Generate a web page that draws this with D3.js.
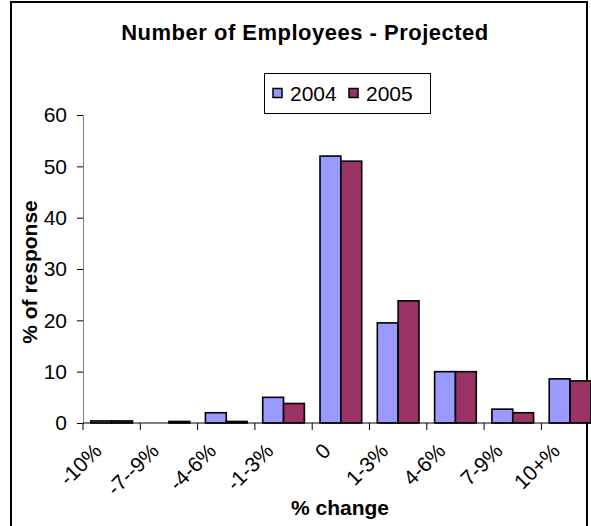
<!DOCTYPE html>
<html><head><meta charset="utf-8">
<script src="https://cdn.jsdelivr.net/npm/d3@7"></script>
<style>body{margin:0;background:#fff}svg{display:block}text{font-family:"Liberation Sans",Arial,sans-serif}</style>
</head><body><svg id="c" width="591" height="526"></svg>
<script>
const categories = ["-10%","-7--9%","-4-6%","-1-3%","0","1-3%","4-6%","7-9%","10+%"];
const seriesNames = ["2004","2005"];
const values2004 = [0.4, 0, 2, 5, 52, 19.5, 10, 2.7, 8.6];
const values2005 = [0.4, 0.3, 0.3, 3.8, 51, 23.8, 10, 2, 8.2];
const yTicks = [0,10,20,30,40,50,60];
const colors = ["#9999FF","#993366"];

(function(){
const svg = d3.select("#c");
const pLeft = 83, pTop = 115, pBottom = 423, catW = 57.3;
const pRight = pLeft + catW*categories.length;
const FS = 21;

svg.append("rect").attr("x",11).attr("y",2).attr("width",576).attr("height",540)
  .attr("fill","none").attr("stroke","#000").attr("stroke-width",2);

const x = d3.scaleBand().domain(categories).range([pLeft,pRight]).paddingInner(0).paddingOuter(0);
const y = d3.scaleLinear().domain([0,60]).range([pBottom,pTop]);
const sub = d3.scaleBand().domain(seriesNames).range([0,x.bandwidth()]).paddingInner(0).paddingOuter(0.375);

const data = categories.map((c,i)=>({c, v:[values2004[i], values2005[i]]}));
const g = svg.append("g");
data.forEach(d=>{
  d.v.forEach((v,j)=>{
    if(v<=0) return;
    g.append("rect").attr("x",x(d.c)+sub(seriesNames[j])).attr("y",y(v))
      .attr("width",sub.bandwidth()).attr("height",y(0)-y(v))
      .attr("fill",colors[j]).attr("stroke","#000").attr("stroke-width",1.6);
  });
});

const ya = svg.append("g").attr("transform",`translate(${pLeft},0)`)
  .call(d3.axisLeft(y).tickValues(yTicks).tickSize(6).tickPadding(10));
ya.select(".domain").attr("stroke","#808080");
ya.selectAll(".tick line").attr("stroke","#000");
ya.selectAll("text").attr("font-size",FS).attr("fill","#000").attr("font-family","Liberation Sans, Arial");

const xa = svg.append("g").attr("transform",`translate(0,${pBottom})`);
xa.append("line").attr("x1",pLeft).attr("x2",591).attr("y1",0).attr("y2",0).attr("stroke","#000").attr("stroke-width",1);
categories.forEach(c=>{
  xa.append("line").attr("x1",x(c)).attr("x2",x(c)).attr("y1",0).attr("y2",7).attr("stroke","#000");
  xa.append("text").attr("transform",`translate(${x(c)+x.bandwidth()/2-14},${24}) rotate(-45)`)
    .attr("text-anchor","end").attr("dy","0.35em").attr("font-size",FS).text(c);
});

svg.append("text").attr("x",305).attr("y",40).attr("text-anchor","middle")
  .attr("font-size",22).attr("font-weight","bold").attr("letter-spacing",0.5).text("Number of Employees - Projected");
svg.append("text").attr("x",340).attr("y",515).attr("text-anchor","middle")
  .attr("font-size",FS).attr("font-weight","bold").text("% change");
svg.append("text").attr("transform","translate(37,272) rotate(-90)").attr("text-anchor","middle")
  .attr("font-size",FS).attr("font-weight","bold").text("% of response");

const lg = svg.append("g");
lg.append("rect").attr("x",264.5).attr("y",73.5).attr("width",166).attr("height",40).attr("fill","#fff").attr("stroke","#000");
seriesNames.forEach((s,i)=>{
  const lx = 273 + i*76;
  lg.append("rect").attr("x",lx).attr("y",88.5).attr("width",9).attr("height",9).attr("fill",colors[i]).attr("stroke","#000").attr("stroke-width",1.5);
  lg.append("text").attr("x",lx+17).attr("y",101).attr("font-size",FS).text(s);
});
})();
</script></body></html>
